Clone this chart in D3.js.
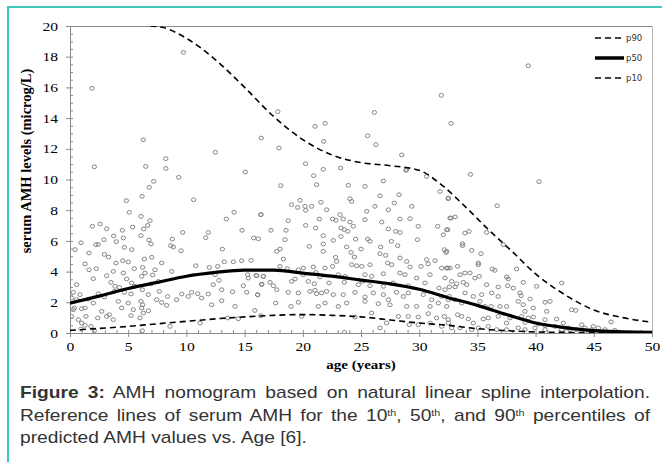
<!DOCTYPE html>
<html>
<head>
<meta charset="utf-8">
<script src="https://cdn.jsdelivr.net/npm/d3@7"></script>
<style>
  html, body { margin: 0; padding: 0; background: #fff; }
  svg { display: block; }
</style>
</head>
<body>
<div id="chart"></div>
<script>
'use strict';

// ─── Data ─────────────────────────────────────────────────────────────────────
const p90Age = [6.9, 8, 10, 12.5, 15, 17.5, 20, 22.5, 25, 27.5, 30, 32, 34, 36, 38, 40, 42.5, 45, 47.5, 50];
const p90Val = [20, 19.9, 19.2, 17.8, 16.0, 14.1, 12.6, 11.6, 11.1, 10.9, 10.6, 9.6, 8.2, 6.7, 5.3, 3.85, 2.5, 1.5, 1.0, 0.7];

const p50Age = [0, 2.5, 5, 7.5, 10, 12.5, 15, 17.5, 20, 22.5, 25, 27.5, 30, 32.5, 35, 37.5, 40, 42.5, 45, 47.5, 50];
const p50Val = [1.95, 2.4, 2.9, 3.3, 3.7, 3.95, 4.1, 4.1, 3.9, 3.7, 3.45, 3.2, 2.85, 2.3, 1.8, 1.2, 0.65, 0.35, 0.15, 0.08, 0.05];

const p10Age = [0, 2.5, 5, 7.5, 10, 12.5, 15, 17.5, 20, 22.5, 25, 27.5, 30, 32.5, 35, 37.5, 40, 42.5, 45, 50];
const p10Val = [0.17, 0.3, 0.43, 0.6, 0.76, 0.92, 1.05, 1.15, 1.2, 1.15, 1.05, 0.85, 0.65, 0.5, 0.28, 0.15, 0.07, 0.04, 0.03, 0.02];

// observed serum AMH values [age, value]
const observations = [
  [1.9,15.94],[9.74,18.28],[6.29,12.59],[2.09,10.83],[6.51,10.85],[8.23,11.36],[8.23,10.72],[12.49,11.77],
  [16.43,12.7],[17.85,14.42],[17.95,12.05],[20.24,11.03],[21.05,13.46],[21.92,13.66],[21.79,12.48],[21.76,10.66],
  [23.25,10.75],[25.57,12.85],[26.15,14.37],[26.28,12.27],[28.5,11.6],[31.9,15.48],[32.74,13.66],[39.37,17.41],
  [28.9,10.66],[34.4,10.33],[40.3,9.86],[36.7,8.29],
  [15.06,10.49],[9.34,10.14],[7.19,9.88],[6.81,9.49],[6.19,8.9],[10.62,8.68],[4.84,8.62],[5.09,7.86],[14.1,7.86],
  [16.4,7.71],[6.1,7.6],[13.43,7.43],[6.87,7.32],[1.92,6.95],[2.6,7.1],[3.15,6.79],[5.38,6.9],[6.67,7.01],
  [6.33,6.78],[4.5,6.69],[9.68,6.55],[11.88,6.55],[14.78,6.69],[3.75,6.32],[6.1,6.34],[11.66,6.21],[15.78,6.19],
  [2.92,6.08],[4.58,6.19],[6.79,6.06],[8.79,6.12],[0.94,5.88],[3.98,5.95],[2.23,5.75],[2.43,5.77],[6.96,5.8],
  [8.65,5.69],[8.88,5.6],[4.67,5.58],[9.54,5.36],[5.3,5.43],[13.09,5.47],[0.43,5.43],[1.63,5.21],[2.95,5.12],
  [3.32,4.95],[7.02,4.93],[6.39,4.82],[4.53,4.71],[5.01,4.63],[3.95,4.56],[7.88,4.56],[1.29,4.5],[13.26,4.64],
  [14.03,4.64],[14.75,4.71],[15.55,4.73],[10.8,4.38],[11.97,4.27],[12.69,4.34],[2.26,4.19],[1.63,4.12],[5.52,4.19],
  [6.24,4.27],[7.3,4.12],[8.74,4.01],[3.72,4.01],[4.58,3.91],[6.44,3.91],[15.26,3.8],[15.98,3.75],[16.61,3.69],
  [2.0,3.54],[3.15,3.73],[4.87,3.52],[6.16,3.69],[7.1,3.78],[12.46,3.8],[12.8,3.43],[15.32,3.58],[0.57,3.15],
  [3.52,3.3],[3.87,3.04],[4.24,2.97],[5.3,3.26],[5.58,3.04],[6.96,3.19],[7.59,3.36],[12.31,3.15],[13.03,2.82],
  [14.89,3.08],[16.47,3.19],[0.28,2.65],[0.86,2.5],[2.43,2.56],[2.95,2.35],[3.8,2.71],[4.67,2.65],[5.24,2.54],
  [6.21,2.82],[6.73,2.5],[7.67,2.71],[8.39,2.38],[9.6,2.54],[10.45,2.65],[10.97,2.56],[11.88,2.54],[13.97,2.69],
  [15.18,2.65],[16.12,2.48],[0.14,2.28],[0.57,2.17],[1.57,2.21],[2.0,1.95],[4.15,2.06],[5.01,1.95],[6.1,2.06],
  [6.24,1.84],[7.45,2.17],[7.88,1.99],[9.16,2.17],[10.16,2.38],[11.31,2.28],[13.03,2.1],[12.17,1.84],[14.18,1.73],
  [0.28,1.52],[1.0,1.58],[1.29,1.63],[2.72,1.41],[3.38,1.19],[4.44,1.63],[5.44,1.52],[6.16,1.63],[6.3,1.3],
  [6.73,1.45],[8.3,1.8],[0.14,1.08],[0.72,0.87],[1.37,1.08],[2.38,0.98],[3.15,1.08],[3.72,0.87],[5.24,1.13],
  [6.01,0.98],[11.17,0.65],[13.55,0.98],[14.46,0.93],[15.89,1.47],[1.0,0.65],[1.29,0.5],[1.8,0.43],[2.09,0.15],
  [6.21,0.15],[8.59,0.43],[0.94,0.26],[0.37,1.63],
  [20.93,10.25],[18.1,9.6],[21.19,9.66],[23.91,9.62],[25.34,9.55],[26.92,9.9],[30.64,10.2],[28.87,10.59],
  [26.63,8.94],[28.27,9.01],[24.05,8.75],[24.2,8.57],[31.79,9.22],[32.5,8.75],[19.04,8.36],[19.56,8.18],
  [19.76,8.64],[20.19,8.25],[20.25,7.99],[20.76,8.25],[21.56,8.51],[22.05,8.03],[16.4,7.71],[23.2,7.71],
  [23.48,7.43],[25.49,7.93],[26.2,8.25],[27.35,8.03],[27.86,8.47],[29.36,8.25],[18.75,7.32],[21.42,7.43],
  [22.56,7.43],[22.85,7.34],[24.05,7.23],[25.34,7.38],[26.78,7.23],[28.35,7.43],[29.21,7.45],[29.92,6.95],
  [31.59,6.95],[32.73,7.49],[17.27,6.69],[18.56,6.69],[20.25,7.01],[21.11,6.84],[23.28,6.84],[23.57,6.73],
  [23.86,6.62],[24.34,6.95],[27.35,6.78],[27.98,6.62],[28.35,6.55],[32.45,6.73],[18.47,6.08],[21.76,6.34],
  [22.62,6.03],[23.28,6.29],[24.54,6.12],[25.57,6.12],[25.77,5.97],[27.61,5.97],[29.85,6.08],[32.07,6.4],
  [21.76,5.8],[20.56,5.64],[23.77,5.6],[25.0,5.47],[26.69,5.6],[28.15,5.69],[32.16,5.43],[32.3,5.25],
  [17.76,5.32],[18.04,5.47],[21.76,5.32],[24.14,5.25],[24.43,4.95],[26.63,5.17],[27.12,5.06],[22.82,4.93],
  [18.33,4.82],[16.18,6.14],[22.91,4.66],[28.35,4.89],[28.93,4.66],[30.64,4.78],[31.36,4.71],[18.04,4.34],
  [18.67,4.19],[20.04,4.23],[20.9,4.3],[21.91,4.23],[22.56,4.34],[24.2,4.45],[24.63,4.38],[25.06,4.34],
  [25.77,4.45],[27.29,4.56],[27.63,4.45],[29.21,4.3],[30.15,4.34],[30.78,4.5],[31.93,4.23],[32.45,4.23],
  [16.04,3.73],[16.61,3.69],[19.62,4.12],[20.04,3.8],[21.13,3.95],[21.48,3.65],[23.05,3.8],[23.63,3.69],
  [25.34,3.8],[25.92,3.69],[26.92,3.86],[28.35,3.91],[28.78,3.8],[29.78,3.58],[30.93,3.8],[32.22,3.58],
  [16.47,3.15],[17.18,3.3],[17.47,3.08],[19.04,3.36],[19.33,3.52],[20.47,3.36],[20.99,3.21],[22.25,3.26],
  [23.57,3.3],[24.77,3.15],[25.11,3.36],[25.77,3.08],[26.92,3.04],[27.77,3.26],[29.06,3.08],[30.5,3.26],
  [31.7,2.93],[32.59,3.0],[16.12,2.5],[17.76,2.82],[18.75,2.65],[19.62,2.61],[20.62,2.71],[21.05,2.78],
  [21.19,2.56],[21.62,2.61],[22.05,2.71],[22.62,2.5],[23.48,2.5],[24.48,2.65],[25.34,2.35],[26.06,2.61],
  [26.92,2.5],[27.35,2.17],[28.06,2.65],[28.64,2.38],[29.06,2.61],[30.35,2.5],[31.07,2.17],[31.93,2.38],
  [32.59,2.38],[17.67,1.95],[18.99,1.73],[19.62,2.0],[21.33,1.73],[21.91,1.95],[23.05,1.73],[23.77,1.95],
  [25.34,2.06],[26.49,1.91],[27.49,1.84],[28.93,1.73],[29.78,1.73],[30.93,1.73],[31.64,1.95],[32.36,1.73],
  [16.4,1.13],[19.9,1.08],[24.48,1.04],[25.92,1.3],[28.21,1.08],[29.06,1.08],[29.92,1.04],[30.78,1.26],
  [31.5,0.98],[32.16,1.08],[32.5,0.87],[27.2,0.65],[29.15,0.54],[29.92,0.54],[30.93,0.65],[31.93,0.43],
  [26.63,0.33],[23.57,0.04],
  [32.5,8.79],[32.65,7.49],[33.08,7.56],[32.36,6.73],[33.93,6.51],[34.28,6.62],[35.79,6.55],[33.72,5.82],
  [33.72,5.69],[37.23,5.75],[32.36,5.32],[34.51,5.38],[35.31,5.17],[35.08,4.56],[35.08,4.45],[32.36,4.23],
  [32.65,4.23],[33.3,4.34],[36.28,4.17],[36.51,4.08],[38.37,4.17],[33.51,3.8],[33.93,3.91],[34.36,3.91],
  [35.16,3.69],[37.51,3.65],[37.65,3.52],[32.79,3.36],[33.22,3.21],[33.79,3.3],[34.08,3.15],[34.79,3.58],
  [35.79,3.15],[36.79,3.0],[37.6,3.08],[38.94,3.3],[40.09,3.04],[42.24,3.26],[32.22,2.82],[33.08,3.0],
  [33.93,2.61],[34.65,2.38],[35.37,2.5],[36.23,2.61],[36.79,2.38],[38.08,2.93],[38.66,2.61],[38.74,2.43],
  [39.52,2.21],[40.81,2.0],[41.24,2.06],[43.1,1.52],[43.44,1.47],[32.5,2.17],[33.08,2.17],[33.65,1.95],
  [35.22,2.06],[35.65,1.73],[36.17,1.73],[36.94,1.73],[37.51,1.73],[38.51,2.06],[38.94,1.84],[39.09,1.41],
  [39.8,1.63],[40.95,1.41],[33.3,1.19],[33.65,1.08],[34.22,0.91],[34.65,0.65],[35.5,0.91],[35.93,0.98],
  [36.79,1.08],[37.8,0.98],[38.8,1.08],[39.37,0.98],[39.8,1.04],[40.81,0.87],[41.81,0.91],[42.38,0.65],
  [43.96,0.54],[44.96,0.43],[46.48,0.72],[32.5,0.65],[32.79,0.33],[33.51,0.33],[35.08,0.33],[35.93,0.43],
  [36.65,0.22],[37.51,0.22],[38.51,0.33],[39.09,0.22],[39.95,0.33],[40.81,0.22],[41.67,0.43],[42.24,0.22],
  [42.81,0.33],[43.53,0.22],[44.24,0.33],[44.82,0.22],[45.39,0.33],[45.96,0.22],[46.82,0.17],[34.51,0.22],
  [42.67,0.1],[44.53,0.1],[40.81,0.48],[40.24,0.59],[39.09,0.69],[37.51,0.65]
];

const yTicks = [0, 2, 4, 6, 8, 10, 12, 14, 16, 18, 20];
const xTicks = [0, 5, 10, 15, 20, 25, 30, 35, 40, 45, 50];
const legendItems = [
  { label: 'p90', dash: '6,4', width: 1.6 },
  { label: 'p50', dash: null,  width: 3.5 },
  { label: 'p10', dash: '6,4', width: 1.6 },
];

// ─── Layout ───────────────────────────────────────────────────────────────────
const W = 662, H = 462;
const X0 = 70, X1 = 652, Y0 = 333, Y1 = 26;
const TEAL = '#3fc8b5';
const AXIS = '#8a8a8a';
const STRETCH = 1.2;   // the source figure is stretched horizontally

const svg = d3.select('#chart').append('svg').attr('width', W).attr('height', H);

// frame
svg.append('line').attr('x1', 8).attr('x2', W).attr('y1', 7).attr('y2', 7)
  .attr('stroke', TEAL).attr('stroke-width', 2);
svg.append('line').attr('x1', 8).attr('x2', 8).attr('y1', 6).attr('y2', H)
  .attr('stroke', TEAL).attr('stroke-width', 2);

const x = d3.scaleLinear().domain([0, 50]).range([X0, X1]);
const y = d3.scaleLinear().domain([0, 20]).range([Y0, Y1]);

// plot border (top / right)
svg.append('line').attr('x1', X0).attr('x2', X1).attr('y1', Y1 + 0.5).attr('y2', Y1 + 0.5)
  .attr('stroke', AXIS).attr('stroke-width', 1);
svg.append('line').attr('x1', X1 + 0.5).attr('x2', X1 + 0.5).attr('y1', Y1).attr('y2', Y0)
  .attr('stroke', '#b8b8b8').attr('stroke-width', 1);

// ─── Axes ─────────────────────────────────────────────────────────────────────
const serif = '"Liberation Serif", "Times New Roman", serif';

const yMinor = svg.append('g').attr('transform', `translate(${X0},0)`)
  .call(d3.axisLeft(y).tickValues(d3.range(0, 20.01, 0.5)).tickSize(-3).tickFormat(''));
const yMajor = svg.append('g').attr('transform', `translate(${X0},0)`)
  .call(d3.axisLeft(y).tickValues(yTicks).tickSize(4).tickPadding(8));

const xMinor = svg.append('g').attr('transform', `translate(0,${Y0})`)
  .call(d3.axisBottom(x).tickValues(d3.range(0, 50.01, 1)).tickSize(-3).tickFormat(''));
const xMajor = svg.append('g').attr('transform', `translate(0,${Y0})`)
  .call(d3.axisBottom(x).tickValues(xTicks).tickSize(4).tickPadding(5));

[yMinor, yMajor, xMinor, xMajor].forEach(g => {
  g.selectAll('path.domain').attr('stroke', AXIS);
  g.selectAll('.tick line').attr('stroke', AXIS);
  g.selectAll('.tick text').attr('font-family', serif).attr('font-size', 13).attr('fill', '#000');
});
// widen tick labels like the source
yMajor.selectAll('.tick text').attr('x', 0).attr('transform', `translate(-12,0) scale(${STRETCH},1)`);
xMajor.selectAll('.tick text').attr('transform', `scale(${STRETCH},1)`);

// axis titles
svg.append('text')
  .attr('transform', 'translate(31,161) rotate(-90)')
  .attr('text-anchor', 'middle')
  .attr('font-family', serif).attr('font-weight', 'bold').attr('font-size', 14.5)
  .text('serum AMH levels (microg/L)');

svg.append('text')
  .attr('transform', `translate(361,369) scale(${STRETCH},1)`)
  .attr('text-anchor', 'middle')
  .attr('font-family', serif).attr('font-weight', 'bold').attr('font-size', 12.5)
  .text('age (years)');

// ─── Plot content ─────────────────────────────────────────────────────────────
svg.append('clipPath').attr('id', 'plot-clip')
  .append('rect').attr('x', X0).attr('y', Y1).attr('width', X1 - X0).attr('height', Y0 - Y1);

const plot = svg.append('g').attr('clip-path', 'url(#plot-clip)');

plot.append('g').selectAll('ellipse')
  .data(observations)
  .join('ellipse')
  .attr('cx', d => x(d[0]))
  .attr('cy', d => y(d[1]))
  .attr('rx', 2.2)
  .attr('ry', 1.9)
  .attr('fill', 'none')
  .attr('stroke', '#858585')
  .attr('stroke-width', 1);

const line = d3.line().x(d => x(d[0])).y(d => y(d[1])).curve(d3.curveMonotoneX);
const zip = (a, b) => a.map((v, i) => [v, b[i]]);

plot.append('path').datum(zip(p10Age, p10Val))
  .attr('d', line).attr('fill', 'none').attr('stroke', '#000')
  .attr('stroke-width', 1.6).attr('stroke-dasharray', '6,4');
plot.append('path').datum(zip(p90Age, p90Val))
  .attr('d', line).attr('fill', 'none').attr('stroke', '#000')
  .attr('stroke-width', 1.6).attr('stroke-dasharray', '6,4');
plot.append('path').datum(zip(p50Age, p50Val))
  .attr('d', line).attr('fill', 'none').attr('stroke', '#000')
  .attr('stroke-width', 3.2);

// ─── Legend ───────────────────────────────────────────────────────────────────
const legend = svg.append('g').attr('transform', 'translate(595,38)');
legendItems.forEach((it, i) => {
  const g = legend.append('g').attr('transform', `translate(0,${i * 20})`);
  g.append('line').attr('x1', 0).attr('x2', 29).attr('y1', 0).attr('y2', 0)
    .attr('stroke', '#000').attr('stroke-width', it.width)
    .attr('stroke-dasharray', it.dash);
  g.append('text').attr('x', 31).attr('y', 3)
    .attr('font-family', '"DejaVu Sans", Verdana, sans-serif').attr('font-size', 8.5)
    .attr('fill', '#333').text(it.label);
});

// ─── Caption ──────────────────────────────────────────────────────────────────
const sans = '"Liberation Sans", Arial, sans-serif';
const CAP_STRETCH = 1.2;
const CAP_LEFT = 20, CAP_RIGHT = 650;
const capLines = [
  { y: 398, justify: true, parts: [
    { t: 'Figure 3:', b: true }, { t: ' AMH nomogram based on natural linear spline interpolation.' }] },
  { y: 421, justify: true, parts: [
    { t: 'Reference lines of serum AMH for the 10' }, { t: 'th', sup: true }, { t: ', 50' }, { t: 'th', sup: true },
    { t: ', and 90' }, { t: 'th', sup: true }, { t: ' percentiles of' }] },
  { y: 443, justify: false, parts: [{ t: 'predicted AMH values vs. Age [6].' }] },
];
capLines.forEach(ln => {
  const t = svg.append('text')
    .attr('transform', `translate(${CAP_LEFT},${ln.y}) scale(${CAP_STRETCH},1)`)
    .attr('font-family', sans).attr('font-size', 16).attr('fill', '#333')
    .attr('xml:space', 'preserve');
  ln.parts.forEach(p => {
    const s = t.append('tspan').text(p.t);
    if (p.b) s.attr('font-weight', 'bold');
    if (p.sup) s.attr('font-size', 9).attr('baseline-shift', '5');
  });
  if (ln.justify) {
    const natural = t.node().getComputedTextLength();
    const spaces = ln.parts.map(p => p.t).join('').split(' ').length - 1;
    const extra = ((CAP_RIGHT - CAP_LEFT) / CAP_STRETCH - natural) / spaces;
    t.attr('word-spacing', Math.max(0, extra));
  }
});
</script>
</body>
</html>
